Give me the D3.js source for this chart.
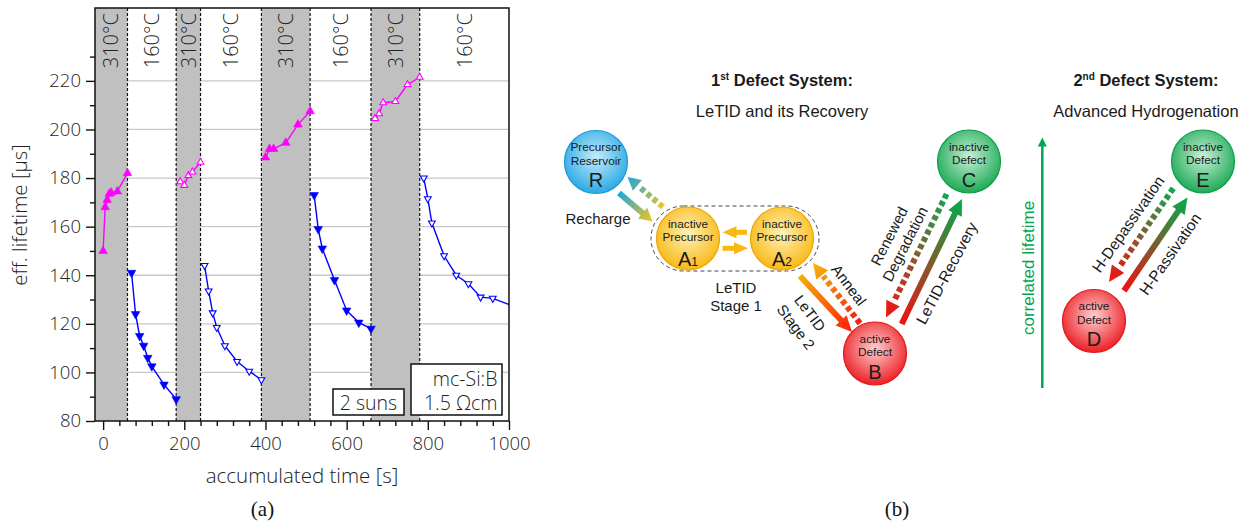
<!DOCTYPE html>
<html>
<head>
<meta charset="utf-8">
<script src="https://cdn.jsdelivr.net/npm/d3@7"></script>
<style>
body { margin: 0; background: #fff; }
svg { display: block; }
.chart text { font-family: "Open Sans", sans-serif; font-weight: 300; fill: #222; }
.diag text { font-family: "Liberation Sans", Arial, sans-serif; fill: #1a1a1a; }
</style>
</head>
<body>
<svg id="fig" width="1253" height="525"></svg>
<script>
// ---------- (a) data ----------
const phaseEdges = [-20, 60, 180, 240, 390, 510, 660, 780, 1000];
const phaseTemps = ['310°C', '160°C', '310°C', '160°C', '310°C', '160°C', '310°C', '160°C'];

// lifetime [µs] vs accumulated time [s]
const hot1 = [[0, 150], [5, 168], [10, 171], [15, 173.5], [20, 174], [35, 174.5], [60, 182]];
const cool1 = [[70, 141], [80, 124], [90, 115], [100, 111], [110, 106], [120, 102.5], [150, 95], [180, 89]];
const hot2 = [[190, 178.5], [200, 177], [210, 181], [220, 182.5], [240, 186.5]];
const cool2 = [[250, 144], [260, 133.5], [270, 124.5], [280, 118.5], [300, 111], [330, 104.5], [360, 100.5], [390, 97]];
const hot3 = [[400, 188.5], [410, 192], [420, 192], [450, 194.5], [480, 202], [510, 207.5]];
const cool3 = [[520, 173], [530, 159], [540, 151], [570, 138], [600, 125.5], [630, 120.5], [660, 118]];
const hot4 = [[670, 204.5], [680, 206.5], [690, 211], [720, 211.5], [750, 218.5], [780, 221.5]];
const cool4 = [[790, 180], [800, 171.5], [810, 161.5], [840, 148], [870, 140], [900, 136.5], [930, 131], [960, 130.5], [1030, 126]];

const yTicks = [80, 100, 120, 140, 160, 180, 200, 220];
const yMinor = [90, 110, 130, 150, 170, 190, 210, 230];
const xTicks = [0, 200, 400, 600, 800, 1000];
const xMinor = d3.range(40, 1000, 40).filter(v => v % 200 !== 0);

const svg = d3.select('#fig');
svg.append('rect').attr('width', 1253).attr('height', 525).attr('fill', '#fff');

// ---------- (a) chart ----------
const x = d3.scaleLinear().domain([-20, 1000]).range([95, 509]);
const y = d3.scaleLinear().domain([80, 250]).range([421, 8]);

const chart = svg.append('g').attr('class', 'chart');

chart.append('clipPath').attr('id', 'plotclip')
  .append('rect')
    .attr('x', x(-20)).attr('y', y(250))
    .attr('width', x(1000) - x(-20)).attr('height', y(80) - y(250));

// grid
chart.append('g').selectAll('line')
  .data(yTicks.slice(1))
  .join('line')
    .attr('x1', x(-20)).attr('x2', x(1000))
    .attr('y1', d => y(d)).attr('y2', d => y(d))
    .attr('stroke', '#c8c8c8').attr('stroke-width', 1.3);

const phases = phaseTemps.map((t, i) => ({ t, a: phaseEdges[i], b: phaseEdges[i + 1] }));

// 310 °C bands
chart.append('g').selectAll('rect')
  .data(phases.filter(p => p.t === '310°C'))
  .join('rect')
    .attr('x', d => x(d.a)).attr('width', d => x(d.b) - x(d.a))
    .attr('y', y(250)).attr('height', y(80) - y(250))
    .attr('fill', '#c0c0c0');

// phase boundaries
chart.append('g').selectAll('line')
  .data(phaseEdges.slice(1, -1))
  .join('line')
    .attr('x1', d => x(d)).attr('x2', d => x(d))
    .attr('y1', y(250)).attr('y2', y(80))
    .attr('stroke', '#111').attr('stroke-width', 1.2)
    .attr('stroke-dasharray', '3,2');

// temperature labels
chart.append('g').selectAll('text')
  .data(phases)
  .join('text')
    .attr('transform', d => `translate(${x((d.a + d.b) / 2)},13) rotate(-90)`)
    .attr('text-anchor', 'end')
    .attr('dy', '0.36em')
    .attr('font-size', 20)
    .text(d => d.t);

// series
const series = [
  { data: hot1, up: true, filled: true, color: '#ff00ff' },
  { data: cool1, up: false, filled: true, color: '#0000ff' },
  { data: hot2, up: true, filled: false, color: '#ff00ff' },
  { data: cool2, up: false, filled: false, color: '#0000ff' },
  { data: hot3, up: true, filled: true, color: '#ff00ff' },
  { data: cool3, up: false, filled: true, color: '#0000ff' },
  { data: hot4, up: true, filled: false, color: '#ff00ff' },
  { data: cool4, up: false, filled: false, color: '#0000ff' }
];

const line = d3.line().x(d => x(d[0])).y(d => y(d[1]));
const tri = (w, h) => `M0,${-h * 2 / 3}L${w / 2},${h / 3}L${-w / 2},${h / 3}Z`;

const sg = chart.append('g').attr('clip-path', 'url(#plotclip)');
series.forEach(s => {
  sg.append('path')
    .attr('d', line(s.data))
    .attr('fill', 'none')
    .attr('stroke', s.color)
    .attr('stroke-width', 1.4);
  sg.append('g').selectAll('path')
    .data(s.data)
    .join('path')
      .attr('d', s.filled ? tri(8.5, 7.5) : tri(6.8, 6))
      .attr('transform', d => `translate(${x(d[0])},${y(d[1])}) rotate(${s.up ? 0 : 180})`)
      .attr('fill', s.filled ? s.color : '#fff')
      .attr('stroke', s.color)
      .attr('stroke-width', s.filled ? 0.6 : 1.1);
});

// frame
chart.append('rect')
  .attr('x', x(-20)).attr('y', y(250))
  .attr('width', x(1000) - x(-20)).attr('height', y(80) - y(250))
  .attr('fill', 'none').attr('stroke', '#111').attr('stroke-width', 1.5);

// axes
chart.append('g')
  .attr('transform', `translate(${x(-20)},0)`)
  .call(d3.axisLeft(y).tickValues(yTicks).tickSize(9).tickSizeOuter(0).tickPadding(5));
chart.append('g')
  .attr('transform', `translate(${x(-20)},0)`)
  .call(d3.axisLeft(y).tickValues(yMinor).tickSize(5).tickSizeOuter(0).tickFormat(''));
chart.append('g')
  .attr('transform', `translate(0,${y(80)})`)
  .call(d3.axisBottom(x).tickValues(xTicks).tickFormat(d3.format('d')).tickSize(9).tickSizeOuter(0).tickPadding(7));
chart.append('g')
  .attr('transform', `translate(0,${y(80)})`)
  .call(d3.axisBottom(x).tickValues(xMinor).tickSize(5).tickSizeOuter(0).tickFormat(''));

chart.selectAll('.domain').remove();
chart.selectAll('.tick line').attr('stroke', '#111').attr('stroke-width', 1.4);
chart.selectAll('.tick text').attr('font-size', 18.5).attr('font-family', '"Open Sans", sans-serif').attr('fill', '#222');

// axis titles
chart.append('text')
  .attr('transform', 'translate(27,215) rotate(-90)')
  .attr('text-anchor', 'middle')
  .attr('font-size', 20.5)
  .text('eff. lifetime [µs]');
chart.append('text')
  .attr('x', 302).attr('y', 483)
  .attr('text-anchor', 'middle')
  .attr('font-size', 20.5)
  .text('accumulated time [s]');

// info boxes
chart.append('rect').attr('x', 333).attr('y', 389).attr('width', 71).attr('height', 26)
  .attr('fill', '#fff').attr('stroke', '#111').attr('stroke-width', 1.5);
chart.append('text').attr('x', 368.5).attr('y', 409.5).attr('text-anchor', 'middle')
  .attr('font-size', 19.5).text('2 suns');
chart.append('rect').attr('x', 411).attr('y', 364).attr('width', 91).attr('height', 51)
  .attr('fill', '#fff').attr('stroke', '#111').attr('stroke-width', 1.5);
chart.append('text').attr('x', 497.5).attr('y', 385.5).attr('text-anchor', 'end')
  .attr('font-size', 19.5).text('mc-Si:B');
chart.append('text').attr('x', 497.5).attr('y', 409.5).attr('text-anchor', 'end')
  .attr('font-size', 19.5).text('1.5 Ωcm');

svg.append('text').attr('x', 262.5).attr('y', 516).attr('text-anchor', 'middle')
  .attr('font-family', '"Liberation Serif", "Times New Roman", serif').attr('font-size', 21)
  .attr('fill', '#111').text('(a)');
svg.append('text').attr('x', 897).attr('y', 516).attr('text-anchor', 'middle')
  .attr('font-family', '"Liberation Serif", "Times New Roman", serif').attr('font-size', 21)
  .attr('fill', '#111').text('(b)');

// ---------- (b) defect model diagram ----------
const diag = svg.append('g').attr('class', 'diag');
const defs = svg.append('defs');

const palettes = {
  blue:   { c0: '#c4ecfb', c1: '#2aa9e4', stroke: '#1b98d4' },
  yellow: { c0: '#fff1b8', c1: '#f8b916', stroke: '#efa600' },
  red:    { c0: '#ffd0d0', c1: '#ec1e25', stroke: '#e01818' },
  green:  { c0: '#c9f0d7', c1: '#1caa55', stroke: '#0c9e48' }
};
Object.entries(palettes).forEach(([k, p]) => {
  const g = defs.append('radialGradient').attr('id', 'rg-' + k)
    .attr('cx', '50%').attr('cy', '42%').attr('r', '58%');
  g.append('stop').attr('offset', '0%').attr('stop-color', p.c0);
  g.append('stop').attr('offset', '100%').attr('stop-color', p.c1);
});

const nodes = [
  { x: 596, y: 162, pal: 'blue', lines: ['Precursor', 'Reservoir'], letter: 'R', sub: '' },
  { x: 688, y: 238.5, pal: 'yellow', lines: ['inactive', 'Precursor'], letter: 'A', sub: '1' },
  { x: 782, y: 238.5, pal: 'yellow', lines: ['inactive', 'Precursor'], letter: 'A', sub: '2' },
  { x: 875, y: 353.5, pal: 'red', lines: ['active', 'Defect'], letter: 'B', sub: '' },
  { x: 969, y: 161.5, pal: 'green', lines: ['inactive', 'Defect'], letter: 'C', sub: '' },
  { x: 1094, y: 321, pal: 'red', lines: ['active', 'Defect'], letter: 'D', sub: '' },
  { x: 1203, y: 161.5, pal: 'green', lines: ['inactive', 'Defect'], letter: 'E', sub: '' }
];
const R = 31.5;

// dashed group around A1/A2
diag.append('rect')
  .attr('x', 651).attr('y', 206).attr('width', 168).attr('height', 65).attr('rx', 32.5)
  .attr('fill', 'none').attr('stroke', '#444').attr('stroke-width', 1)
  .attr('stroke-dasharray', '4,3');

// arrows
const arrows = [
  { from: [619, 193], to: [652.5, 221.5], c0: '#1ea6dd', c1: '#f3c51d', dashed: false, w: 6, hl: 13, hw: 14 },
  { from: [663, 207], to: [627.5, 177], c0: '#ecc426', c1: '#1ea6dd', dashed: true, w: 6, hl: 13, hw: 14 },
  { from: [747, 232.3], to: [722.5, 232.3], c0: '#f9b80f', c1: '#f9b80f', dashed: false, w: 5, hl: 14, hw: 12 },
  { from: [722.5, 248.3], to: [748, 248.3], c0: '#f9b80f', c1: '#f9b80f', dashed: false, w: 5, hl: 14, hw: 12 },
  { from: [800, 276], to: [852, 332], c0: '#f8ad06', c1: '#ff1e0a', dashed: false, w: 6, hl: 16, hw: 15 },
  { from: [860, 323.3], to: [813, 263], c0: '#f21c12', c1: '#f9b50c', dashed: true, w: 6, hl: 15, hw: 15 },
  { from: [946.7, 194], to: [886, 317.5], c0: '#10a94f', c1: '#f61010', dashed: true, w: 6, hl: 16, hw: 15 },
  { from: [901.7, 324], to: [962, 199], c0: '#f21010', c1: '#00ad4d', dashed: false, w: 6, hl: 16, hw: 15 },
  { from: [1173.3, 188.3], to: [1109, 282], c0: '#10a94f', c1: '#f61010', dashed: true, w: 6, hl: 16, hw: 15 },
  { from: [1124, 290.7], to: [1187.5, 197.5], c0: '#f21010', c1: '#00ad4d', dashed: false, w: 6, hl: 16, hw: 15 },
  { from: [1042.3, 388], to: [1042.3, 137.5], c0: '#00a651', c1: '#00a651', dashed: false, w: 2.5, hl: 9, hw: 9 }
];

arrows.forEach((a, i) => {
  const [x0, y0] = a.from, [x1, y1] = a.to;
  const len = Math.hypot(x1 - x0, y1 - y0);
  const ux = (x1 - x0) / len, uy = (y1 - y0) / len;
  const px = -uy, py = ux;
  const bx = x1 - ux * a.hl, by = y1 - uy * a.hl;
  const gid = 'lg' + i;
  const g = defs.append('linearGradient').attr('id', gid)
    .attr('gradientUnits', 'userSpaceOnUse')
    .attr('x1', x0).attr('y1', y0).attr('x2', x1).attr('y2', y1);
  g.append('stop').attr('offset', '0%').attr('stop-color', a.c0);
  g.append('stop').attr('offset', '100%').attr('stop-color', a.c1);
  diag.append('line')
    .attr('x1', x0).attr('y1', y0)
    .attr('x2', a.dashed ? bx - ux * 1.5 : bx + ux).attr('y2', a.dashed ? by - uy * 1.5 : by + uy)
    .attr('stroke', `url(#${gid})`).attr('stroke-width', a.w)
    .attr('stroke-dasharray', a.dashed ? '5,3' : null);
  diag.append('path')
    .attr('d', `M${x1},${y1}L${bx + px * a.hw / 2},${by + py * a.hw / 2}L${bx - px * a.hw / 2},${by - py * a.hw / 2}Z`)
    .attr('fill', `url(#${gid})`);
});

// nodes
const ng = diag.selectAll('g.node')
  .data(nodes)
  .join('g')
    .attr('class', 'node')
    .attr('transform', d => `translate(${d.x},${d.y})`);
ng.append('circle')
  .attr('r', R)
  .attr('fill', d => `url(#rg-${d.pal})`)
  .attr('stroke', d => palettes[d.pal].stroke)
  .attr('stroke-width', 1.2);
ng.append('text').attr('y', -11).attr('text-anchor', 'middle').attr('font-size', 11.8)
  .text(d => d.lines[0]);
ng.append('text').attr('y', 2.5).attr('text-anchor', 'middle').attr('font-size', 11.8)
  .text(d => d.lines[1]);
const lt = ng.append('text').attr('y', d => d.sub ? 27 : 25).attr('text-anchor', 'middle').attr('font-size', 20);
lt.append('tspan').text(d => d.letter);
lt.append('tspan').attr('font-size', 12).text(d => d.sub);

// labels along arrows
const labels = [
  { t: 'Recharge', x: 598, y: 219, rot: 0, size: 15 },
  { t: 'LeTID', x: 736, y: 287.5, rot: 0, size: 15 },
  { t: 'Stage 1', x: 736, y: 306, rot: 0, size: 15 },
  { t: 'Anneal', x: 849, y: 285, rot: 53, size: 15 },
  { t: 'LeTID', x: 810, y: 313, rot: 53, size: 15 },
  { t: 'Stage 2', x: 796, y: 327, rot: 53, size: 15 },
  { t: 'Renewed', x: 889, y: 236, rot: -63, size: 15 },
  { t: 'Degradation', x: 905, y: 244, rot: -63, size: 15 },
  { t: 'LeTID-Recovery', x: 946.5, y: 273, rot: -62, size: 15.5 },
  { t: 'H-Depassivation', x: 1128, y: 224, rot: -55, size: 15.5 },
  { t: 'H-Passivation', x: 1170, y: 254, rot: -55, size: 15.5 }
];
diag.append('g').selectAll('text')
  .data(labels)
  .join('text')
    .attr('transform', d => `translate(${d.x},${d.y}) rotate(${d.rot})`)
    .attr('text-anchor', 'middle')
    .attr('dy', '0.36em')
    .attr('font-size', d => d.size)
    .text(d => d.t);

diag.append('text')
  .attr('transform', 'translate(1028,268) rotate(-90)')
  .attr('text-anchor', 'middle').attr('dy', '0.36em')
  .attr('font-size', 17).style('fill', '#00a651')
  .text('correlated lifetime');

// headings
function heading(cx, num, sup, sub) {
  const t = diag.append('text').attr('x', cx).attr('y', 86).attr('text-anchor', 'middle')
    .attr('font-size', 16.5).attr('font-weight', 'bold');
  t.append('tspan').text(num);
  t.append('tspan').attr('font-size', 10).attr('dy', -6).text(sup);
  t.append('tspan').attr('dy', 6).text(' Defect System:');
  diag.append('text').attr('x', cx).attr('y', 117).attr('text-anchor', 'middle')
    .attr('font-size', 16.5).text(sub);
}
heading(782, '1', 'st', 'LeTID and its Recovery');
heading(1146, '2', 'nd', 'Advanced Hydrogenation');
</script>
</body>
</html>
